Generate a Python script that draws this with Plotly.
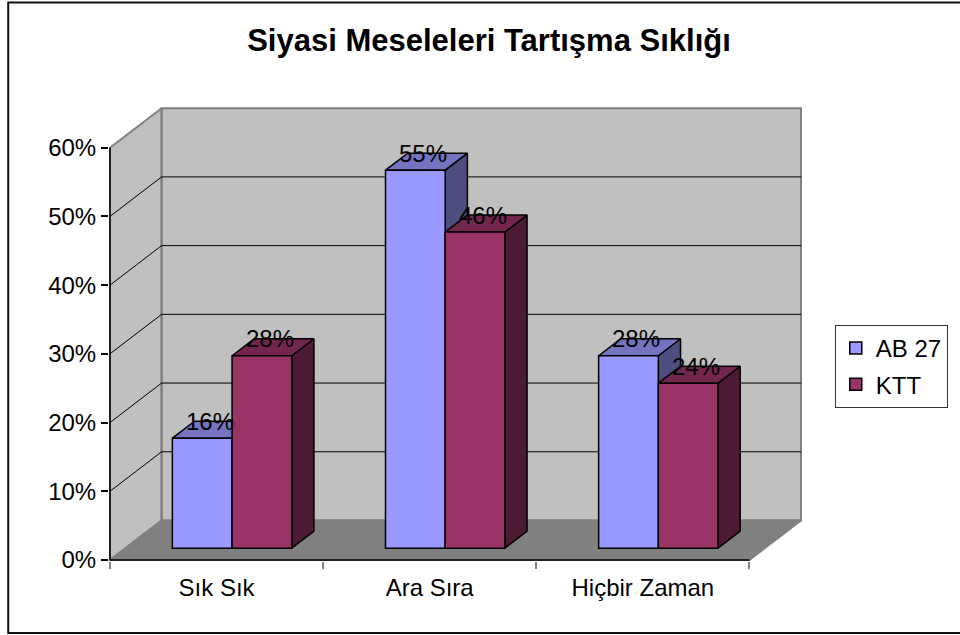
import plotly.graph_objects as go

# ---------------- data ----------------
categories = ["Sık Sık", "Ara Sıra", "Hiçbir Zaman"]
series_names = ["AB 27", "KTT"]
ab27_values = [16, 55, 28]
ktt_values = [28, 46, 24]
y_tick_values = [0, 10, 20, 30, 40, 50, 60]
y_tick_labels = ["0%", "10%", "20%", "30%", "40%", "50%", "60%"]
title_text = "Siyasi Meseleleri Tartışma Sıklığı"

series_values = [ab27_values, ktt_values]

# ---------------- style ----------------
FONT = "Liberation Sans, Arial, sans-serif"
front_colors = ["#9999FF", "#993366"]
top_colors = ["#7373BF", "#73264D"]
side_colors = ["#4D4D80", "#4D1A33"]
WALL = "#C0C0C0"
FLOOR = "#808080"
EDGE = "#808080"
BAR_EDGE_W = 1.5

# pixel layout of the plotting frame
W, H = 960, 635
PX_X0 = 110.0          # pixel x of category axis start
PX_Y0 = 560.0          # pixel y of 0%
PX_PER_CAT = 214.67
PX_PER_PCT = 6.872
PL, PR, PT, PB = 109, 808, 106, 561  # plot area pixel box

# pseudo-3D geometry in axis units
N = len(categories)
Y_MAX = y_tick_values[-1]
DX = 52.0 / PX_PER_CAT       # depth shift along x (category units)
DY = 39.5 / PX_PER_PCT       # depth shift along y (percent units)
BAR_W = 0.28
GAP_L = 0.22
F0, F1 = 0.30, 0.73          # bar depth (front / back fraction of full depth)

x_range = [(PL - PX_X0) / PX_PER_CAT, (PR - PX_X0) / PX_PER_CAT]
y_range = [(PX_Y0 - PB) / PX_PER_PCT, (PX_Y0 - PT) / PX_PER_PCT]

fig = go.Figure()

# walls (left + back)
wall_x = [0, DX, DX, 0, 0, None, DX, N + DX, N + DX, DX, DX]
wall_y = [0, DY, Y_MAX + DY, Y_MAX, 0, None, DY, DY, Y_MAX + DY, Y_MAX + DY, DY]
fig.add_trace(go.Scatter(x=wall_x, y=wall_y, mode="lines", fill="toself",
                         fillcolor=WALL, line=dict(color=EDGE, width=2),
                         hoverinfo="skip", showlegend=False, zorder=-4))
# floor
floor_x = [0, N, N + DX, DX, 0]
floor_y = [0, 0, DY, DY, 0]
fig.add_trace(go.Scatter(x=floor_x, y=floor_y, mode="lines", fill="toself",
                         fillcolor=FLOOR, line=dict(color=EDGE, width=2),
                         hoverinfo="skip", showlegend=False, zorder=-4))
# gridlines
gx, gy = [], []
for v in y_tick_values[1:-1]:
    gx += [0, DX, N + DX, None]
    gy += [v, v + DY, v + DY, None]
fig.add_trace(go.Scatter(x=gx, y=gy, mode="lines", line=dict(color="black", width=1),
                         hoverinfo="skip", showlegend=False, zorder=-3))
# axis lines (front edges)
fig.add_trace(go.Scatter(x=[0, 0, N], y=[Y_MAX, 0, 0], mode="lines",
                         line=dict(color="black", width=1.5),
                         hoverinfo="skip", showlegend=False, zorder=-2))

annotations = []
bdx = (F1 - F0) * DX
bdy = (F1 - F0) * DY
for s, (name, vals) in enumerate(zip(series_names, series_values)):
    centers = [c + GAP_L + (s + 0.5) * BAR_W + F0 * DX for c in range(N)]
    sx, sy, tx, ty = [], [], [], []
    for xc, v in zip(centers, vals):
        xa, xb = xc - BAR_W / 2, xc + BAR_W / 2
        yb, yt = F0 * DY, v + F0 * DY
        sx += [xb, xb, xb + bdx, xb + bdx, xb, None]
        sy += [yb, yt, yt + bdy, yb + bdy, yb, None]
        tx += [xa, xb, xb + bdx, xa + bdx, xa, None]
        ty += [yt, yt, yt + bdy, yt + bdy, yt, None]
        annotations.append(dict(x=xc + 0.35 * bdx, y=yt + bdy, xref="x", yref="y",
                                text=f"{v}%", showarrow=False, yanchor="middle",
                                font=dict(family=FONT, size=24, color="black")))
    fig.add_trace(go.Scatter(x=sx, y=sy, mode="lines", fill="toself",
                             fillcolor=side_colors[s], line=dict(color="black", width=BAR_EDGE_W),
                             hoverinfo="skip", showlegend=False, zorder=2 * s + 1))
    fig.add_trace(go.Scatter(x=tx, y=ty, mode="lines", fill="toself",
                             fillcolor=top_colors[s], line=dict(color="black", width=BAR_EDGE_W),
                             hoverinfo="skip", showlegend=False, zorder=2 * s + 1))
    fig.add_trace(go.Bar(x=centers, y=vals, base=F0 * DY, width=BAR_W, name=name,
                         legendgroup=name,
                         marker=dict(color=front_colors[s],
                                     line=dict(color="black", width=BAR_EDGE_W)),
                         zorder=2 * s + 2))

def px_to_paper_x(px):
    return (px - PL) / (PR - PL)

def px_to_paper_y(py):
    return (PB - py) / (PB - PT)

fig.update_layout(
    width=W, height=H,
    margin=dict(l=PL, r=W - PR, t=PT, b=H - PB, pad=0),
    paper_bgcolor="white", plot_bgcolor="rgba(0,0,0,0)",
    barmode="overlay",
    font=dict(family=FONT, size=24, color="black"),
    title=dict(text=title_text, xref="container", yref="container",
               x=489 / W, y=1 - 40 / H, xanchor="center", yanchor="middle",
               font=dict(family=FONT, size=31, color="black", weight="bold")),
    xaxis=dict(range=x_range, showgrid=False, zeroline=False, showline=False,
               tickvals=[c + 0.5 for c in range(N)], ticktext=categories,
               ticks="", tickfont=dict(size=24), ticklabelstandoff=10,
               minor=dict(ticks="outside", ticklen=7, tickcolor=EDGE, tickwidth=1.5,
                          tick0=0, dtick=1, showgrid=False),
               fixedrange=True),
    yaxis=dict(range=y_range, showgrid=False, zeroline=False, showline=False,
               tickvals=y_tick_values, ticktext=y_tick_labels,
               ticks="outside", ticklen=7, tickcolor="black", tickwidth=1.5,
               tickfont=dict(size=24), fixedrange=True),
    legend=dict(x=px_to_paper_x(840), y=px_to_paper_y(325), xanchor="left", yanchor="top",
                bordercolor="#333333", borderwidth=1, bgcolor="white",
                font=dict(family=FONT, size=24, color="black"),
                traceorder="grouped", tracegroupgap=2),
    annotations=annotations,
    shapes=[dict(type="rect", xref="paper", yref="paper",
                 x0=px_to_paper_x(7.5), x1=px_to_paper_x(975),
                 y0=px_to_paper_y(633), y1=px_to_paper_y(2.5),
                 line=dict(color="#111111", width=2), fillcolor="rgba(0,0,0,0)",
                 layer="above")],
)

fig.write_html("out.html", config={"displayModeBar": False},
               post_script="document.body.style.margin='0px';document.body.style.overflow='hidden';")
